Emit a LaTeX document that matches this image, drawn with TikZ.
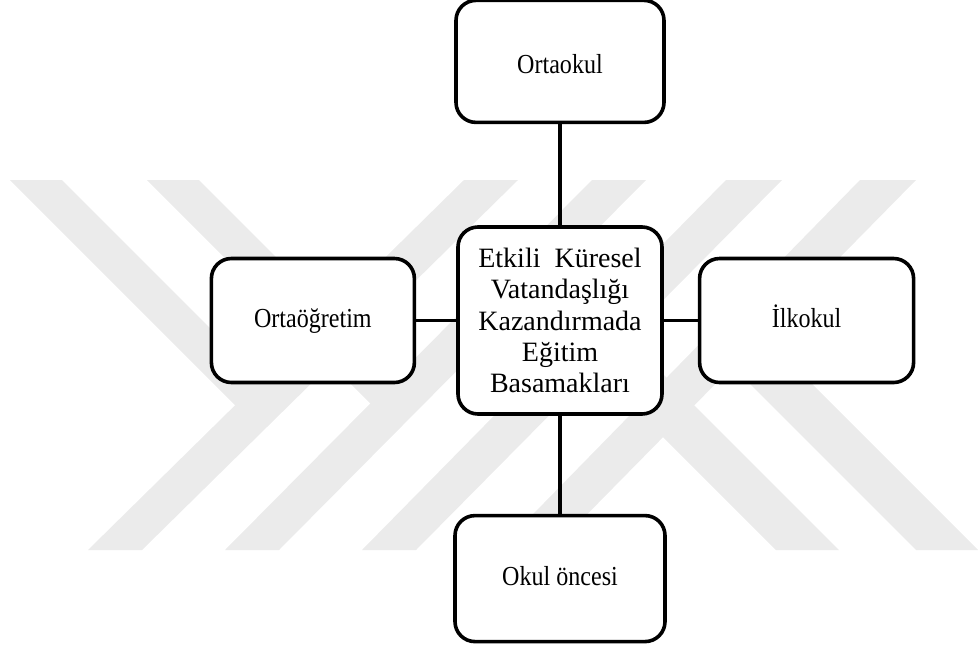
\documentclass[tikz,border=0pt]{standalone}
\usepackage{fontspec}
\setmainfont{Liberation Serif}
\newfontfamily\slimserif[FakeStretch=0.875]{Liberation Serif}
\usetikzlibrary{positioning}
\definecolor{wmark}{HTML}{EBEBEB}

\begin{document}
\begin{tikzpicture}[
  x=1pt, y=-1pt,
  box/.style={rectangle, draw, fill=white, line width=3.6pt, rounded corners=20pt,
    inner sep=0pt, text height=20pt, text depth=6pt,
    font=\slimserif\fontsize{27.5}{31}\selectfont},
  hub/.style={box, minimum width=204pt, minimum height=187pt, align=center,
    text height=, text depth=, font=\fontsize{28}{31.25}\selectfont},
  link/.style={draw, line width=3.6pt},
  band/.style={fill=wmark}
]
\useasboundingbox (0,0) rectangle (978,646);

% watermark
\fill[band] (88,550) -- (142,550) -- (518,180) -- (464,180) -- cycle;
\fill[band] (225,550) -- (279,550) -- (646,180) -- (592,180) -- cycle;
\fill[band] (362,550) -- (416,550) -- (782,180) -- (726,180) -- cycle;
\fill[band] (498,550) -- (552,550) -- (916,180) -- (860,180) -- cycle;
\fill[band] (10,180) -- (62,180) -- (287,405) -- (235,405) -- cycle;
\fill[band] (147,180) -- (199,180) -- (423,404) -- (371,404) -- cycle;
\fill[band] (776,550) -- (839,550) -- (629,340) -- (566,340) -- cycle;
\fill[band] (916,550) -- (978,550) -- (768,340) -- (706,340) -- cycle;

\node[hub] (hub) at (560,320.5)
  {Etkili\hspace{0.25em} Küresel\\Vatandaşlığı\\Kazandırmada\\Eğitim\\Basamakları};
\node[box, minimum width=208pt, minimum height=122pt, text height=28pt, text depth=4pt,
  above=101pt of hub] (ortaokul) {Ortaokul};
\node[box, minimum width=210pt, minimum height=126pt, below=98pt of hub] (okuloncesi) {Okul öncesi};
\node[box, minimum width=203pt, minimum height=124pt, left=40pt of hub] (ortaogretim) {Ortaöğretim};
\node[box, minimum width=214pt, minimum height=124pt, right=34pt of hub] (ilkokul) {İlkokul};

\draw[link] (hub) -- (ortaokul);
\draw[link] (hub) -- (okuloncesi);
\draw[link] (hub) -- (ortaogretim);
\draw[link] (hub) -- (ilkokul);
\end{tikzpicture}
\end{document}
